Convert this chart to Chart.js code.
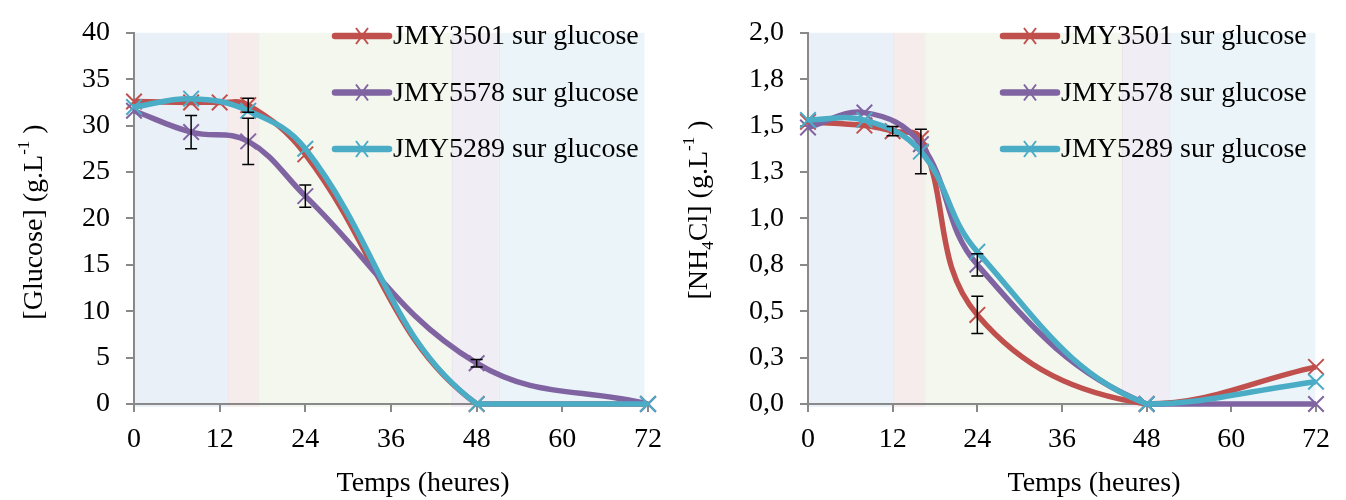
<!DOCTYPE html>
<html lang="fr">
<head>
<meta charset="utf-8">
<title>Glucose et NH4Cl - JMY3501 / JMY5578 / JMY5289</title>
<script src="https://cdn.jsdelivr.net/npm/chart.js@4.4.1/dist/chart.umd.min.js"></script>
<style>
  html, body { margin: 0; padding: 0; background: #fff; }
  .charts { display: flex; width: 1346px; height: 500px; }
  .chart-box { width: 673px; height: 500px; }
</style>
</head>
<body>
<div class="charts">
  <div class="chart-box"><canvas id="glucoseChart" width="673" height="500"></canvas></div>
  <div class="chart-box"><canvas id="nh4clChart" width="673" height="500"></canvas></div>
</div>
<script>
// Temps de prélèvement (heures)
const hours = [0, 8, 12, 16, 24, 48, 72];
const xTicks = [0, 12, 24, 36, 48, 60, 72];
const strainLabels = ['JMY3501 sur glucose', 'JMY5578 sur glucose', 'JMY5289 sur glucose'];

// [Glucose] (g/L)
const glucose3501 = [32.6, 32.5, 32.5, 32.2, 26.9, 0, 0];
const glucose5578 = [31.6, 29.3, null, 28.3, 22.4, 4.4, 0];
const glucose5289 = [32.0, 32.9, null, 31.6, 27.5, 0, 0];
const glucoseErr3501 = [0, 0, 0, 0.75, 0, 0, 0];
const glucoseErr5578 = [0, 1.8, 0, 2.5, 1.2, 0.4, 0];
const glucoseErr5289 = [0, 0, 0, 0, 0, 0, 0];
const glucoseTicks = [0, 5, 10, 15, 20, 25, 30, 35, 40];
const glucoseTickLabels = ['0', '5', '10', '15', '20', '25', '30', '35', '40'];
const glucosePhases = [0, 13.1, 17.4, 44.5, 51.1, 71.5];

// [NH4Cl] (g/L)
const nh4cl3501 = [1.52, 1.50, 1.47, 1.43, 0.48, 0, 0.20];
const nh4cl5578 = [1.49, 1.57, null, 1.40, 0.75, 0, 0];
const nh4cl5289 = [1.53, 1.53, null, 1.36, 0.82, 0, 0.12];
const nh4clErr3501 = [0, 0, 0.025, 0, 0.1, 0, 0];
const nh4clErr5578 = [0, 0, 0, 0, 0.06, 0, 0];
const nh4clErr5289 = [0, 0, 0, 0.12, 0, 0, 0];
const nh4clTicks = [0, 0.25, 0.5, 0.75, 1, 1.25, 1.5, 1.75, 2];
const nh4clTickLabels = ['0,0', '0,3', '0,5', '0,8', '1,0', '1,3', '1,5', '1,8', '2,0'];
const nh4clPhases = [0, 12.1, 16.5, 44.5, 51.2, 71.9];

// Couleurs (palette Office)
const strainColors = ['#C0504D', '#8064A2', '#4BACC6'];
const phaseColors = ['#EAF0F8', '#F7ECEC', '#F3F7EE', '#F0EEF4', '#EBF5F9'];
const FONT = '"Liberation Serif", "Times New Roman", serif';
const FONT_SIZE = 28;
const AXIS_COLOR = '#898989';

function toPoints(values) {
    return hours.map(function(h, i) {
        return { x: h, y: values[i] };
    });
}

// Zones de phase en fond
function phasePlugin(bounds) {
    return {
        id: 'phases',
        beforeDraw: function(chart) {
            const ctx = chart.ctx;
            const xs = chart.scales.x;
            const area = chart.chartArea;
            ctx.save();
            for (let i = 0; i < bounds.length - 1; i++) {
                const x0 = xs.getPixelForValue(bounds[i]);
                const x1 = xs.getPixelForValue(bounds[i + 1]);
                ctx.fillStyle = phaseColors[i];
                ctx.fillRect(x0, area.top, x1 - x0, area.bottom - area.top + 3);
                if (i > 0) {
                    ctx.fillStyle = 'rgba(0,0,0,0.04)';
                    ctx.fillRect(x0, area.top, 1, area.bottom - area.top + 3);
                }
            }
            ctx.restore();
        }
    };
}

// Barres d'erreur
function errorBarPlugin(errorSets) {
    return {
        id: 'errorBars',
        afterDatasetsDraw: function(chart) {
            const ctx = chart.ctx;
            const xs = chart.scales.x;
            const ys = chart.scales.y;
            ctx.save();
            ctx.strokeStyle = '#000';
            ctx.lineWidth = 1.5;
            chart.data.datasets.forEach(function(ds, i) {
                const errs = errorSets[i];
                ds.data.forEach(function(p, j) {
                    if (p.y == null || !errs[j]) return;
                    const x = xs.getPixelForValue(p.x);
                    const yTop = ys.getPixelForValue(p.y + errs[j]);
                    const yBot = ys.getPixelForValue(Math.max(0, p.y - errs[j]));
                    ctx.beginPath();
                    ctx.moveTo(x, yTop);
                    ctx.lineTo(x, yBot);
                    ctx.moveTo(x - 6, yTop);
                    ctx.lineTo(x + 6, yTop);
                    ctx.moveTo(x - 6, yBot);
                    ctx.lineTo(x + 6, yBot);
                    ctx.stroke();
                });
            });
            ctx.restore();
        }
    };
}

// Texte avec indices / exposants
function drawRich(ctx, parts, x, y) {
    const small = Math.round(FONT_SIZE * 0.62);
    let total = 0;
    parts.forEach(function(p) {
        ctx.font = (p.sup || p.sub ? small : FONT_SIZE) + 'px ' + FONT;
        total += ctx.measureText(p.t).width;
    });
    let cx = x - total / 2;
    parts.forEach(function(p) {
        ctx.font = (p.sup || p.sub ? small : FONT_SIZE) + 'px ' + FONT;
        let dy = 0;
        if (p.sup) dy = -FONT_SIZE * 0.45;
        if (p.sub) dy = FONT_SIZE * 0.22;
        ctx.fillText(p.t, cx, y + dy);
        cx += ctx.measureText(p.t).width;
    });
}

// Titres des axes + légende dans la zone du graphique
function decorPlugin(yTitle, yTitleX, yTitleCenter) {
    return {
        id: 'decor',
        afterDraw: function(chart) {
            const ctx = chart.ctx;
            const area = chart.chartArea;
            ctx.save();
            ctx.fillStyle = '#000';
            ctx.textAlign = 'left';
            ctx.textBaseline = 'alphabetic';

            // titre axe Y (vertical)
            ctx.save();
            ctx.translate(yTitleX, yTitleCenter);
            ctx.rotate(-Math.PI / 2);
            drawRich(ctx, yTitle, 0, 0);
            ctx.restore();

            // titre axe X
            drawRich(ctx, [{ t: 'Temps (heures)' }], (area.left + area.right) / 2 + 32, 491);

            // légende
            const lx = area.right - 313;
            chart.data.datasets.forEach(function(ds, i) {
                const ly = 36 + i * 56.5;
                ctx.strokeStyle = ds.borderColor;
                ctx.lineCap = 'round';
                ctx.lineWidth = 6.5;
                ctx.beginPath();
                ctx.moveTo(lx, ly);
                ctx.lineTo(lx + 54, ly);
                ctx.stroke();
                ctx.lineCap = 'butt';
                ctx.lineWidth = 2;
                ctx.beginPath();
                ctx.moveTo(lx + 21, ly - 8);
                ctx.lineTo(lx + 33, ly + 8);
                ctx.moveTo(lx + 33, ly - 8);
                ctx.lineTo(lx + 21, ly + 8);
                ctx.stroke();
                ctx.font = FONT_SIZE + 'px ' + FONT;
                ctx.textBaseline = 'middle';
                ctx.fillText(ds.label, lx + 58, ly + 1);
                ctx.textBaseline = 'alphabetic';
            });
            ctx.restore();
        }
    };
}

function buildDatasets(series) {
    // ordre : rouge en dessous, cyan au-dessus
    return series.map(function(values, i) {
        return {
            label: strainLabels[i],
            data: toPoints(values),
            borderColor: strainColors[i],
            backgroundColor: strainColors[i],
            borderWidth: 5.5,
            tension: 0.4,
            spanGaps: true,
            clip: false,
            pointStyle: 'crossRot',
            pointRadius: 11,
            pointHoverRadius: 11,
            pointBorderWidth: 2,
            pointBorderColor: strainColors[i],
            order: 3 - i
        };
    });
}

function buildScales(yTicks, yLabels, yWidth) {
    const axisGrid = {
        display: true,
        drawOnChartArea: false,
        drawTicks: true,
        tickLength: 8,
        color: AXIS_COLOR,
        lineWidth: 2
    };
    return {
        x: {
            type: 'linear',
            min: 0,
            max: 72,
            afterBuildTicks: function(scale) {
                scale.ticks = xTicks.map(function(v) { return { value: v }; });
            },
            afterFit: function(scale) { scale.height = 96; },
            grid: axisGrid,
            border: { display: true, color: AXIS_COLOR, width: 2 },
            ticks: {
                color: '#000',
                padding: 11,
                maxRotation: 0,
                autoSkip: false,
                font: { family: FONT, size: FONT_SIZE }
            }
        },
        y: {
            min: yTicks[0],
            max: yTicks[yTicks.length - 1],
            afterBuildTicks: function(scale) {
                scale.ticks = yTicks.map(function(v) { return { value: v }; });
            },
            afterFit: function(scale) { scale.width = yWidth; },
            grid: axisGrid,
            border: { display: true, color: AXIS_COLOR, width: 2 },
            ticks: {
                color: '#000',
                padding: 16,
                autoSkip: false,
                font: { family: FONT, size: FONT_SIZE },
                callback: function(value, index) {
                    return yLabels[index];
                }
            }
        }
    };
}

function initChart(canvasId, series, errors, yTicks, yLabels, phases, yTitle, layout) {
    const ctx = document.getElementById(canvasId);
    if (!ctx) return;
    new Chart(ctx, {
        type: 'line',
        data: { datasets: buildDatasets(series) },
        options: {
            responsive: false,
            animation: false,
            events: [],
            layout: { padding: { top: layout.top, right: layout.right, left: 0, bottom: 0 } },
            plugins: {
                legend: { display: false },
                tooltip: { enabled: false }
            },
            scales: buildScales(yTicks, yLabels, layout.yWidth)
        },
        plugins: [
            phasePlugin(phases),
            errorBarPlugin(errors),
            decorPlugin(yTitle, layout.titleX, layout.titleY)
        ]
    });
}

initChart('glucoseChart',
    [glucose3501, glucose5578, glucose5289],
    [glucoseErr3501, glucoseErr5578, glucoseErr5289],
    glucoseTicks, glucoseTickLabels, glucosePhases,
    [{ t: '[Glucose] (g.L' }, { t: '-1', sup: true }, { t: ' )' }],
    { top: 22, right: 23, yWidth: 134, titleX: 42, titleY: 222 });

initChart('nh4clChart',
    [nh4cl3501, nh4cl5578, nh4cl5289],
    [nh4clErr3501, nh4clErr5578, nh4clErr5289],
    nh4clTicks, nh4clTickLabels, nh4clPhases,
    [{ t: '[NH' }, { t: '4', sub: true }, { t: 'Cl] (g.L' }, { t: '-1', sup: true }, { t: ' )' }],
    { top: 21, right: 30, yWidth: 135, titleX: 34, titleY: 210 });
</script>
</body>
</html>
